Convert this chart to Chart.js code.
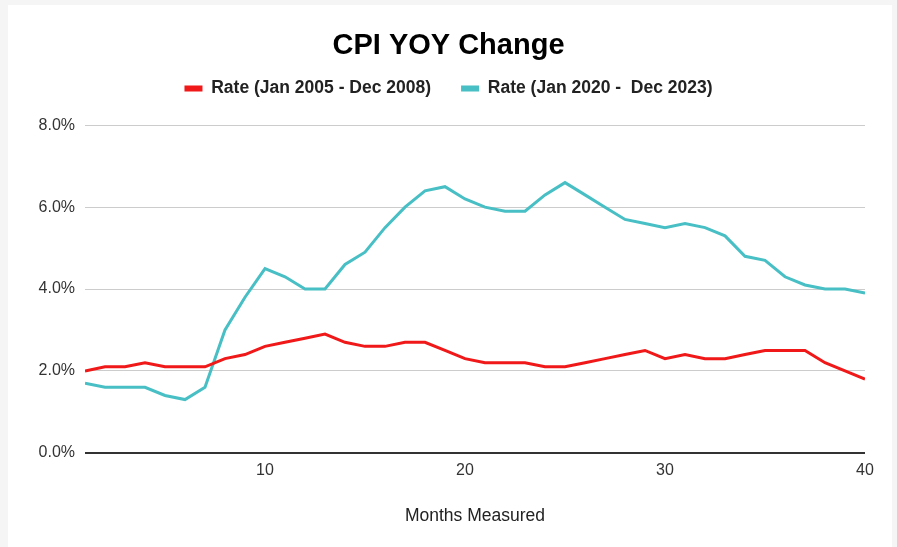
<!DOCTYPE html>
<html>
<head>
<meta charset="utf-8">
<script src="https://cdn.jsdelivr.net/npm/chart.js@4"></script>
<style>
  html, body { margin: 0; padding: 0; background: #f5f5f5; }
  #wrap { position: absolute; left: 0; top: 0; width: 897px; height: 547px; }
</style>
</head>
<body>
<div id="wrap"><canvas id="chartCpi" width="897" height="547"></canvas></div>
<script>
// datos
const meses = [1,2,3,4,5,6,7,8,9,10,11,12,13,14,15,16,17,18,19,20,21,22,23,24,25,26,27,28,29,30,31,32,33,34,35,36,37,38,39,40];
const tasa2005 = [2.0,2.1,2.1,2.2,2.1,2.1,2.1,2.3,2.4,2.6,2.7,2.8,2.9,2.7,2.6,2.6,2.7,2.7,2.5,2.3,2.2,2.2,2.2,2.1,2.1,2.2,2.3,2.4,2.5,2.3,2.4,2.3,2.3,2.4,2.5,2.5,2.5,2.2,2.0,1.8];
const tasa2020 = [1.7,1.6,1.6,1.6,1.4,1.3,1.6,3.0,3.8,4.5,4.3,4.0,4.0,4.6,4.9,5.5,6.0,6.4,6.5,6.2,6.0,5.9,5.9,6.3,6.6,6.3,6.0,5.7,5.6,5.5,5.6,5.5,5.3,4.8,4.7,4.3,4.1,4.0,4.0,3.9];
const etiquetas = ["Rate (Jan 2005 - Dec 2008)", "Rate (Jan 2020 -  Dec 2023)"];
const ticksX = [10, 20, 30, 40];
const ticksY = [0, 2, 4, 6, 8];

const FUENTE = "'Liberation Sans', Arial, sans-serif";

function puntos(valores) {
  return meses.map((m, i) => ({ x: m, y: valores[i] }));
}

// fondo gris con tarjeta blanca
const fondo = {
  id: "fondo",
  beforeDraw(chart) {
    const c = chart.ctx;
    c.save();
    c.fillStyle = "#f5f5f5";
    c.fillRect(0, 0, chart.width, chart.height);
    c.fillStyle = "#ffffff";
    c.fillRect(8, 5, 884, 542);
    c.restore();
  }
};

// ajuste de alto de la leyenda
const espacioLeyenda = {
  id: "espacioLeyenda",
  beforeInit(chart) {
    const fitOrig = chart.legend.fit;
    chart.legend.fit = function () {
      fitOrig.bind(chart.legend)();
      this.height += 18;
    };
  }
};

new Chart(document.getElementById("chartCpi"), {
  type: "line",
  data: {
    datasets: [
      {
        label: etiquetas[0],
        data: puntos(tasa2005),
        borderColor: "#f01818",
        backgroundColor: "#f01818",
        borderWidth: 3,
        pointRadius: 0,
        tension: 0
      },
      {
        label: etiquetas[1],
        data: puntos(tasa2020),
        borderColor: "#47bfc4",
        backgroundColor: "#47bfc4",
        borderWidth: 3,
        pointRadius: 0,
        tension: 0
      }
    ]
  },
  options: {
    responsive: false,
    animation: false,
    layout: { padding: { top: 19, left: 32, right: 32, bottom: 20 } },
    plugins: {
      title: {
        display: true,
        text: "CPI YOY Change",
        color: "#000",
        font: { family: FUENTE, size: 29, weight: "bold" },
        padding: { top: 10, bottom: -14 }
      },
      legend: {
        position: "top",
        labels: {
          boxWidth: 18,
          boxHeight: 6,
          color: "#222",
          font: { family: FUENTE, size: 17.5, weight: "bold" },
          padding: 30,
          generateLabels: (chart) =>
            Chart.defaults.plugins.legend.labels.generateLabels(chart).map(l => ({ ...l, lineWidth: 0 }))
        }
      },
      tooltip: { enabled: false }
    },
    scales: {
      x: {
        type: "linear",
        min: 1,
        max: 40,
        afterBuildTicks: (scale) => { scale.ticks = ticksX.map(v => ({ value: v })); },
        grid: { display: false, drawTicks: false },
        border: { display: false },
        ticks: {
          color: "#333",
          font: { family: FUENTE, size: 16 },
          padding: 8,
          maxRotation: 0
        },
        title: {
          display: true,
          text: "Months Measured",
          color: "#222",
          font: { family: FUENTE, size: 17.5 },
          padding: { top: 18, bottom: 0 }
        }
      },
      y: {
        min: 0,
        max: 8,
        afterBuildTicks: (scale) => { scale.ticks = ticksY.map(v => ({ value: v })); },
        afterFit: (scale) => { scale.width = 53; },
        grid: {
          color: (ctx) => ctx.tick && ctx.tick.value === 0 ? "#333" : "#cccccc",
          lineWidth: (ctx) => ctx.tick && ctx.tick.value === 0 ? 2 : 1,
          drawTicks: false
        },
        border: { display: false },
        ticks: {
          color: "#333",
          font: { family: FUENTE, size: 16 },
          padding: 10,
          callback: (v) => v.toFixed(1) + "%"
        }
      }
    }
  },
  plugins: [fondo, espacioLeyenda]
});
</script>
</body>
</html>
